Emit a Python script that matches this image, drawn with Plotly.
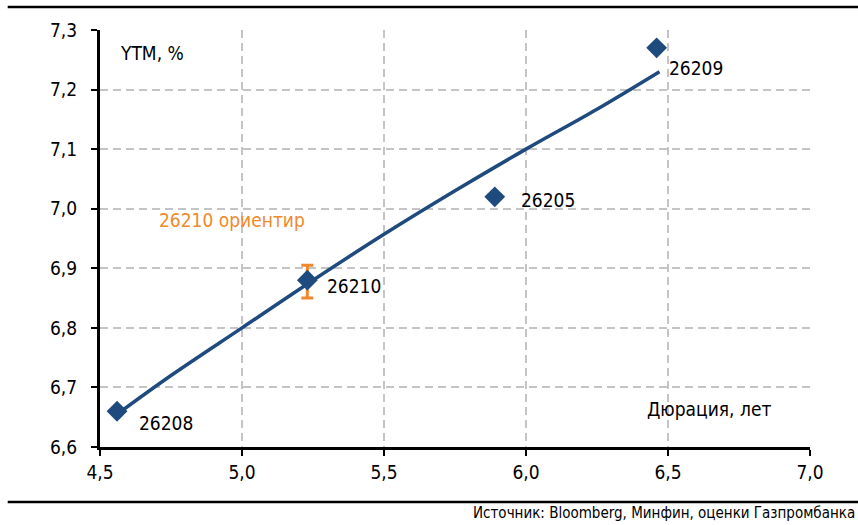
import plotly.graph_objects as go

# Bond points: duration (years) and YTM (%)
bond_names = ["26208", "26210", "26205", "26209"]
bond_duration = [4.56, 5.23, 5.89, 6.46]
bond_ytm = [6.66, 6.88, 7.02, 7.27]

# Fitted yield curve, read at several durations
curve_duration = [4.56, 4.75, 5.0, 5.25, 5.5, 5.75, 6.0, 6.25, 6.47]
curve_ytm = [6.655, 6.72, 6.80, 6.88, 6.957, 7.03, 7.10, 7.167, 7.23]

# Guidance range for 26210
guide_duration = 5.23
guide_low = 6.85
guide_high = 6.905

x_ticks = [4.5, 5.0, 5.5, 6.0, 6.5, 7.0]
y_ticks = [6.6, 6.7, 6.8, 6.9, 7.0, 7.1, 7.2, 7.3]

NAVY = "#1F4A7E"
ORANGE = "#F0892C"
FONT = "DejaVu Sans Condensed, DejaVu Sans, sans-serif"

fig = go.Figure()

fig.add_trace(go.Scatter(
    x=curve_duration, y=curve_ytm, mode="lines",
    line=dict(color=NAVY, width=3.5, shape="spline"),
    hoverinfo="skip", showlegend=False,
))

guide_mid = (guide_low + guide_high) / 2
fig.add_trace(go.Scatter(
    x=[guide_duration], y=[guide_mid], mode="markers",
    marker=dict(size=1, color="rgba(0,0,0,0)"),
    error_y=dict(type="data", symmetric=True, array=[guide_high - guide_mid],
                 color=ORANGE, thickness=3, width=6),
    showlegend=False,
))

fig.add_trace(go.Scatter(
    x=bond_duration, y=bond_ytm, mode="markers",
    marker=dict(symbol="diamond", size=16, color=NAVY),
    showlegend=False,
))

# Bond labels
label_offsets = {
    "26208": (20, 12),
    "26210": (18, 6),
    "26205": (24, 3),
    "26209": (10, 20),
}
for name, xv, yv in zip(bond_names, bond_duration, bond_ytm):
    dx, dy = label_offsets[name]
    fig.add_annotation(
        x=xv, y=yv, text=name, showarrow=True, arrowcolor="rgba(0,0,0,0)",
        ax=dx, ay=dy, xanchor="left", yanchor="middle",
        font=dict(family=FONT, size=19, color="black"),
    )

fig.add_annotation(
    x=4.70, y=7.0, text="26210 ориентир", showarrow=False,
    xanchor="left", yanchor="bottom", yshift=-24,
    font=dict(family=FONT, size=19, color=ORANGE),
)
fig.add_annotation(
    x=0.025, y=0.945, xref="paper", yref="paper", text="YTM, %",
    showarrow=False, xanchor="left", yanchor="middle",
    font=dict(family=FONT, size=19, color="black"),
)
fig.add_annotation(
    x=0.948, y=0.09, xref="paper", yref="paper", text="Дюрация, лет",
    showarrow=False, xanchor="right", yanchor="middle",
    font=dict(family=FONT, size=19, color="black"),
)
fig.add_annotation(
    x=1.066, y=-0.158, xref="paper", yref="paper",
    text="Источник: Bloomberg, Минфин, оценки Газпромбанка",
    showarrow=False, xanchor="right", yanchor="middle",
    font=dict(family=FONT, size=15, color="black"),
)

# Horizontal rules framing the chart block
for yv in (1.055, -0.132):
    fig.add_shape(type="line", xref="paper", yref="paper",
                  x0=-0.13, x1=1.07, y0=yv, y1=yv,
                  line=dict(color="black", width=2.5))

grid = dict(showgrid=True, gridcolor="#C4C4C4", gridwidth=1.5, griddash="8px,5px")
axis_common = dict(
    showline=True, linecolor="black", linewidth=3,
    ticks="outside", ticklen=6, tickwidth=2, tickcolor="black",
    zeroline=False, tickfont=dict(family=FONT, size=19, color="black"),
    tickformat=".1f", **grid,
)

fig.update_xaxes(range=[4.5, 7.0], tickvals=x_ticks, **axis_common)
fig.update_yaxes(range=[6.6, 7.3], tickvals=y_ticks, ticklabelstandoff=10, **axis_common)

fig.update_layout(
    width=858, height=525,
    margin=dict(l=100, r=48, t=30, b=78),
    paper_bgcolor="white", plot_bgcolor="white",
    separators=",.",
    showlegend=False,
)

fig.write_html("out.html")
